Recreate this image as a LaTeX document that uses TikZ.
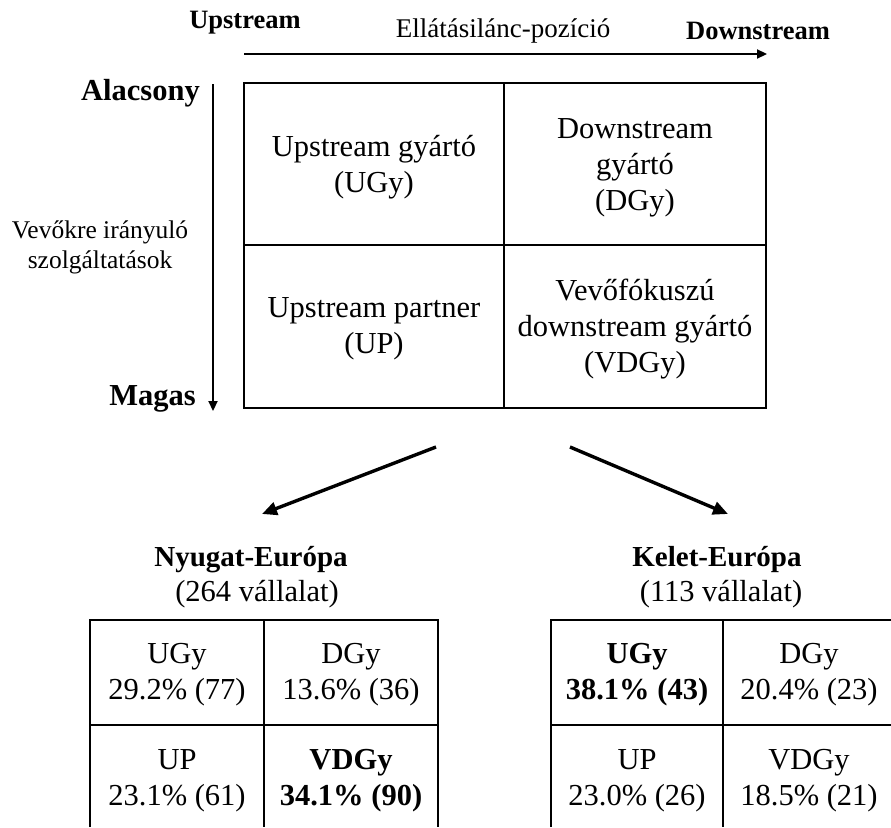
\documentclass[tikz,border=0pt]{standalone}
\usepackage{fontspec}
\setmainfont{Liberation Serif}
\usetikzlibrary{arrows.meta}
\begin{document}
\begin{tikzpicture}[x=1pt,y=-1pt,
  body/.style={font=\fontsize{30.5}{36}\selectfont, align=center, inner sep=0pt},
  small/.style={font=\fontsize{25.5}{30}\selectfont, align=center, inner sep=0pt},
  axislabel/.style={font=\fontsize{27}{30}\selectfont, inner sep=0pt},
  endlabel/.style={font=\bfseries\fontsize{26.5}{30}\selectfont, inner sep=0pt},
  levellabel/.style={font=\bfseries\fontsize{30.5}{33}\selectfont, inner sep=0pt},
  region/.style={font=\bfseries\fontsize{29}{33}\selectfont, inner sep=0pt},
  grid/.style={line width=1.2pt},
  axis/.style={line width=2.2pt, -{Triangle[length=10pt,width=9pt]}},
  split/.style={line width=3.4pt, -{Triangle[length=15pt,width=13pt]}}
]
\useasboundingbox (0,0) rectangle (891,827);

% supply-chain position axis
\node[endlabel, anchor=base] (up) at (245,28) {Upstream};
\node[axislabel, anchor=base] (chain) at (503,37) {Ellátásilánc-pozíció};
\node[endlabel, anchor=base] (down) at (758,39) {Downstream};
\coordinate (hstart) at (244,54);
\coordinate (hend) at (767,54);
\draw[axis] (hstart) -- (hend);

% customer-service axis
\node[levellabel, anchor=base east] (low) at (200,100) {Alacsony};
\node[levellabel, anchor=base east] (high) at (196,405) {Magas};
\node[small] (serv) at (100,247) {Vevőkre irányuló\\szolgáltatások};
\coordinate (vstart) at (213,84);
\coordinate (vend) at (213,411);
\draw[axis] (vstart) -- (vend);

% the 2x2 matrix
\draw[grid] (244,83) rectangle (766,408);
\draw[grid] (504,83) -- (504,408);
\draw[grid] (244,245) -- (766,245);
\node[body] (ugy) at (374,167) {Upstream gyártó\\(UGy)};
\node[body] (dgy) at (635,167.5) {Downstream\\gyártó\\(DGy)};
\node[body] (upp) at (374,329) {Upstream partner\\(UP)};
\node[body] (vdgy) at (635,329) {Vevőfókuszú\\downstream gyártó\\(VDGy)};

% branching arrows
\coordinate (lstart) at (436,447);
\coordinate (lend) at (262,514);
\coordinate (rstart) at (570,447);
\coordinate (rend) at (728,514);
\draw[split] (lstart) -- (lend);
\draw[split] (rstart) -- (rend);

% Western Europe
\node[region, anchor=base] (west) at (251,566) {Nyugat-Európa};
\node[body, anchor=base] (westn) at (257,601) {(264 vállalat)};
\draw[grid] (90,827) -- (90,620) -- (438,620) -- (438,827);
\draw[grid] (264,620) -- (264,827);
\draw[grid] (90,725) -- (438,725);
\node[body] (wugy) at (177,675) {UGy\\29.2\% (77)};
\node[body] (wdgy) at (351,675) {DGy\\13.6\% (36)};
\node[body] (wup) at (177,780.5) {UP\\23.1\% (61)};
\node[body] (wvdgy) at (351,780.5) {\textbf{VDGy}\\\textbf{34.1\% (90)}};

% Eastern Europe
\node[region, anchor=base] (east) at (717,566) {Kelet-Európa};
\node[body, anchor=base] (eastn) at (721,601) {(113 vállalat)};
\draw[grid] (551,827) -- (551,620) -- (895,620);
\draw[grid] (723,620) -- (723,827);
\draw[grid] (551,725) -- (895,725);
\node[body] (eugy) at (637,675) {\textbf{UGy}\\\textbf{38.1\% (43)}};
\node[body] (edgy) at (809,675) {DGy\\20.4\% (23)};
\node[body] (eup) at (637,780.5) {UP\\23.0\% (26)};
\node[body] (evdgy) at (809,780.5) {VDGy\\18.5\% (21)};
\end{tikzpicture}
\end{document}
